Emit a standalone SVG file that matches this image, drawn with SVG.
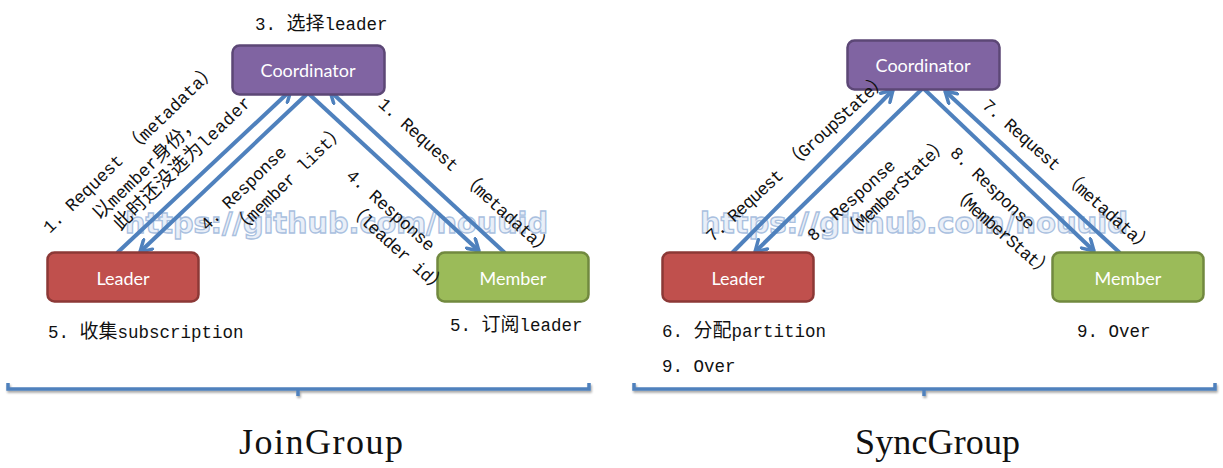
<svg xmlns="http://www.w3.org/2000/svg" width="1223" height="468" viewBox="0 0 1223 468">
<defs>
<style>
.bc{fill:#8064A2;stroke:#5C4776;stroke-width:2.5}
.bl{fill:#C0504D;stroke:#8C3836;stroke-width:2.5}
.bm{fill:#9BBB59;stroke:#71893F;stroke-width:2.5}
.nt{font-family:Lato,"Open Sans",sans-serif;font-size:18px;fill:#fff;text-anchor:middle}
.lb{font-family:"Liberation Mono","Noto Sans CJK SC",monospace;font-size:17.5px;fill:#111}
.cjk{font-family:"Noto Sans CJK SC",sans-serif;font-size:19px}
.rl{text-anchor:middle}
.arr{fill:none;stroke:#4F81BD;stroke-width:4;marker-end:url(#ah)}
.brk{fill:none;stroke:#4F81BD;stroke-width:3.5;filter:url(#sh)}
.ttl{font-family:"Liberation Serif",serif;font-size:36px;fill:#111}
.wm{font-family:"DejaVu Sans",sans-serif;font-size:29px;font-weight:bold;fill:#e9eff8;stroke:#a9c0df;stroke-width:1.3}
</style>
<marker id="ah" viewBox="0 0 16 16" refX="13" refY="8" markerWidth="16" markerHeight="16" orient="auto" markerUnits="userSpaceOnUse">
<path d="M2,1.5 L13,8 L2,14.5" fill="none" stroke="#4F81BD" stroke-width="3.5" stroke-linecap="round" stroke-linejoin="round"/>
</marker>
<filter id="sh" x="-5%" y="-100%" width="110%" height="300%">
<feDropShadow dx="1" dy="2" stdDeviation="1.2" flood-color="#000" flood-opacity="0.35"/>
</filter>
</defs>
<rect width="1223" height="468" fill="#fff"/>

<g id="watermark">
<text class="wm" x="125" y="233" textLength="423" lengthAdjust="spacingAndGlyphs">https://github.com/nouuid</text>
<text class="wm" x="700" y="233" textLength="428" lengthAdjust="spacingAndGlyphs">https://github.com/nouuid</text>
</g>

<g id="connectors">
<line class="arr" x1="117" y1="253" x2="291" y2="90"/>
<line class="arr" x1="308" y1="93" x2="140" y2="252"/>
<line class="arr" x1="308" y1="93" x2="479" y2="251"/>
<line class="arr" x1="505" y1="253" x2="330" y2="91"/>
<line class="arr" x1="732" y1="253" x2="893" y2="90"/>
<line class="arr" x1="923" y1="88" x2="755" y2="252"/>
<line class="arr" x1="923" y1="88" x2="1094" y2="251"/>
<line class="arr" x1="1120" y1="253" x2="945" y2="91"/>
</g>

<g id="coordinator-join">
<rect class="bc" x="232.5" y="45.5" width="152" height="49" rx="7"/>
<text class="nt" x="308" y="77">Coordinator</text>
</g>
<g id="leader-join">
<rect class="bl" x="47.5" y="252.5" width="151" height="49" rx="7"/>
<text class="nt" x="123" y="285">Leader</text>
</g>
<g id="member-join">
<rect class="bm" x="437.5" y="252.5" width="151" height="49" rx="7"/>
<text class="nt" x="513" y="285">Member</text>
</g>
<g id="coordinator-sync">
<rect class="bc" x="847.5" y="40.5" width="152" height="49" rx="7"/>
<text class="nt" x="923" y="72">Coordinator</text>
</g>
<g id="leader-sync">
<rect class="bl" x="662.5" y="252.5" width="151" height="49" rx="7"/>
<text class="nt" x="738" y="285">Leader</text>
</g>
<g id="member-sync">
<rect class="bm" x="1052.5" y="252.5" width="151" height="49" rx="7"/>
<text class="nt" x="1128" y="285">Member</text>
</g>

<g id="labels-join">
<text class="lb" x="255" y="30">3. <tspan class="cjk">选择</tspan>leader</text>
<text class="lb rl" transform="translate(130,148) rotate(-44)" y="6" textLength="235">1. Request <tspan class="cjk">（</tspan>metadata<tspan class="cjk">）</tspan></text>
<text class="lb rl" transform="translate(146,168) rotate(-44)" y="6" textLength="140"><tspan class="cjk">以</tspan>member<tspan class="cjk">身份，</tspan></text>
<text class="lb rl" transform="translate(182,163) rotate(-44)" y="6" textLength="183"><tspan class="cjk">此时还没选为</tspan>leader</text>
<text class="lb rl" transform="translate(243,188) rotate(-44)" y="6" textLength="112">4. Response</text>
<text class="lb rl" transform="translate(289,179) rotate(-44)" y="6" textLength="150"><tspan class="cjk">（</tspan>member list<tspan class="cjk">）</tspan></text>
<text class="lb rl" transform="translate(466,177) rotate(42)" y="6" textLength="228">1. Request <tspan class="cjk">（</tspan>metadata<tspan class="cjk">）</tspan></text>
<text class="lb rl" transform="translate(391,210) rotate(42)" y="6" textLength="112">4. Response</text>
<text class="lb rl" transform="translate(397,248) rotate(42)" y="6" textLength="128"><tspan class="cjk">（</tspan>leader id<tspan class="cjk">）</tspan></text>
<text class="lb" x="48" y="338">5. <tspan class="cjk">收集</tspan>subscription</text>
<text class="lb" x="450" y="331">5. <tspan class="cjk">订阅</tspan>leader</text>
</g>

<g id="labels-sync">
<text class="lb rl" transform="translate(797,157) rotate(-42.5)" y="6" textLength="240">7. Request <tspan class="cjk">（</tspan>GroupState<tspan class="cjk">）</tspan></text>
<text class="lb rl" transform="translate(851,200) rotate(-42)" y="6" textLength="112">8. Response</text>
<text class="lb rl" transform="translate(896,188) rotate(-44)" y="6" textLength="140"><tspan class="cjk">（</tspan>MemberState<tspan class="cjk">）</tspan></text>
<text class="lb rl" transform="translate(1068,176) rotate(41.7)" y="6" textLength="222">7. Request <tspan class="cjk">（</tspan>metadata<tspan class="cjk">）</tspan></text>
<text class="lb rl" transform="translate(993,188) rotate(44)" y="6" textLength="110">8. Response</text>
<text class="lb rl" transform="translate(1002,232) rotate(41)" y="6" textLength="130"><tspan class="cjk">（</tspan>MemberStat<tspan class="cjk">）</tspan></text>
<text class="lb" x="662" y="337">6. <tspan class="cjk">分配</tspan>partition</text>
<text class="lb" x="662" y="372">9. Over</text>
<text class="lb" x="1077" y="337">9. Over</text>
</g>

<g id="bracket-join">
<path class="brk" d="M8,383 L8,389 L589,389 L589,383 M298,389 L298,396"/>
<text class="ttl" x="239" y="454" textLength="164" lengthAdjust="spacing">JoinGroup</text>
</g>
<g id="bracket-sync">
<path class="brk" d="M634,383 L634,389 L1215,389 L1215,383 M924,389 L924,396"/>
<text class="ttl" x="855" y="454" textLength="165" lengthAdjust="spacing">SyncGroup</text>
</g>
</svg>
